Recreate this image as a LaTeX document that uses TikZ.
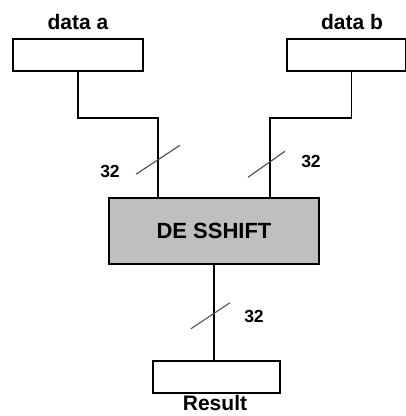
\documentclass[tikz,border=0pt]{standalone}
\usepackage{fontspec}
\setmainfont{Liberation Sans}
\tikzset{
  regbox/.style={draw, line width=1.5pt, minimum width=130pt, minimum height=32pt, inner sep=0pt},
  bus/.style={line width=1.5pt},
  buswidth/.style={line width=1.1pt, black!70},
  lbl/.style={font=\bfseries\fontsize{21}{22}\selectfont, inner sep=0pt},
  widthlbl/.style={font=\bfseries\fontsize{17.5}{19}\selectfont, inner sep=0pt},
}
\begin{document}
\begin{tikzpicture}[x=1pt,y=-1pt]
\useasboundingbox (0,0) rectangle (406,416);
\node[regbox] (dataa) at (78,55) {};
\node[regbox, minimum width=119pt] (datab) at (346.5,55) {};
\node[lbl] (labela) at (78,22) {data a};
\node[lbl] (labelb) at (352,22) {data b};
\node[regbox, fill=black!25, minimum width=210pt, minimum height=66pt,
      font=\bfseries\fontsize{22}{24}\selectfont] (des) at (214,231) {DE SSHIFT};
\node[regbox, minimum width=127pt] (result) at (216.5,377) {};
\node[lbl] (labelres) at (215,403) {Result};
\coordinate (ina) at ([xshift=-56pt]des.north);
\coordinate (inb) at ([xshift=56pt]des.north);
\draw[bus] (dataa.south) -- ++(0,46) -| (ina);
\draw[bus] ([xshift=5pt]datab.south) -- ++(0,46) -| (inb);
\draw[bus] (des.south) -- (des.south |- result.north);
% bus widths
\draw[buswidth] (ina) ++(-22,-23) -- ++(44,-29);
\draw[buswidth] (inb) ++(-22,-20) -- ++(37,-26);
\draw[buswidth] (des.south) ++(-23,64) -- ++(39,-26);
\node[widthlbl] (wa) at (110,171) {32};
\node[widthlbl] (wb) at (311,161) {32};
\node[widthlbl] (wres) at (254,316) {32};
\end{tikzpicture}
\end{document}
